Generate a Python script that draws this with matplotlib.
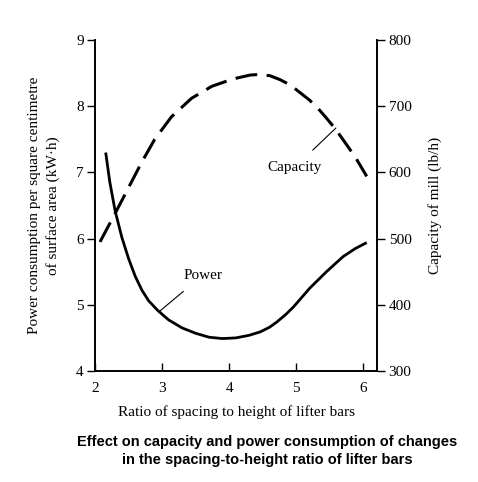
import matplotlib.pyplot as plt

# Power consumption curve (left axis, kW.h)
power_x = [2.16, 2.22, 2.30, 2.40, 2.50, 2.60, 2.70, 2.80, 2.94, 3.10, 3.30, 3.50,
           3.70, 3.90, 4.10, 4.30, 4.46, 4.60, 4.71, 4.85, 4.96, 5.08, 5.20, 5.33,
           5.45, 5.58, 5.70, 5.88, 6.05]
power_y = [7.30, 6.86, 6.42, 6.02, 5.70, 5.43, 5.22, 5.06, 4.91, 4.77, 4.65, 4.57,
           4.51, 4.49, 4.50, 4.54, 4.59, 4.66, 4.74, 4.86, 4.97, 5.11, 5.25, 5.38,
           5.50, 5.62, 5.73, 5.85, 5.94]

# Capacity curve (right axis, lb/h)
cap_x = [2.075, 2.30, 2.50, 2.70, 2.89, 3.14, 3.44, 3.74, 4.05, 4.31, 4.45, 4.61,
         4.76, 4.91, 5.05, 5.20, 5.33, 5.45, 5.58, 5.70, 5.88, 6.05]
cap_y = [495, 538, 577, 616, 650, 684, 712, 730, 741, 747, 748, 746,
         740, 732, 721, 709, 696, 682, 666, 649, 623, 594]

x_ticks = [2, 3, 4, 5, 6]
left_ticks = [4, 5, 6, 7, 8, 9]
right_ticks = [300, 400, 500, 600, 700, 800]

plt.rcParams['font.family'] = 'Liberation Serif'

fig = plt.figure(figsize=(4.78, 4.82), dpi=100)
ax = fig.add_axes([0.1987, 0.2303, 0.5910, 0.6867])
ax2 = ax.twinx()

ax.plot(power_x, power_y, color='black', lw=2.0, solid_capstyle='butt',
        solid_joinstyle='round')
ax2.plot(cap_x, cap_y, color='black', lw=2.2, dashes=(7.2, 3.1),
         dash_capstyle='butt', dash_joinstyle='round')

ax.set_xlim(2, 6.21)
ax.set_ylim(4, 9)
ax2.set_ylim(300, 800)

ax.set_xticks(x_ticks)
ax.set_yticks(left_ticks)
ax2.set_yticks(right_ticks)

for a in (ax, ax2):
    a.spines['top'].set_visible(False)
    for s in a.spines.values():
        s.set_linewidth(1.2)

ax.tick_params(axis='x', direction='in', length=6, width=1.0, pad=8, labelsize=11)
ax.tick_params(axis='y', direction='out', length=6, width=1.0, pad=2, labelsize=11)
ax2.tick_params(axis='y', direction='out', length=6, width=1.0, pad=2, labelsize=11)

ax.set_xlabel('Ratio of spacing to height of lifter bars', fontsize=11, labelpad=7)
ax.set_ylabel('Power consumption per square centimetre\nof surface area (kW\u00b7h)',
              fontsize=11, labelpad=12, linespacing=1.4)
ax2.set_ylabel('Capacity of mill (lb/h)', fontsize=11, labelpad=12)

ax.annotate('Power', xy=(2.96, 4.90), xytext=(3.61, 5.45), fontsize=11,
            ha='center', va='center',
            arrowprops=dict(arrowstyle='-', color='black', lw=0.8, shrinkA=8, shrinkB=0))
ax2.annotate('Capacity', xy=(5.59, 667), xytext=(4.98, 608), fontsize=11,
             ha='center', va='center',
             arrowprops=dict(arrowstyle='-', color='black', lw=0.8, shrinkA=8, shrinkB=0))

fig.text(0.559, 0.064,
         'Effect on capacity and power consumption of changes\nin the spacing-to-height ratio of lifter bars',
         ha='center', va='center', fontsize=10.5, fontweight='bold',
         family='Liberation Sans', linespacing=1.35)

fig.savefig('out.png', dpi=100, facecolor='white')
